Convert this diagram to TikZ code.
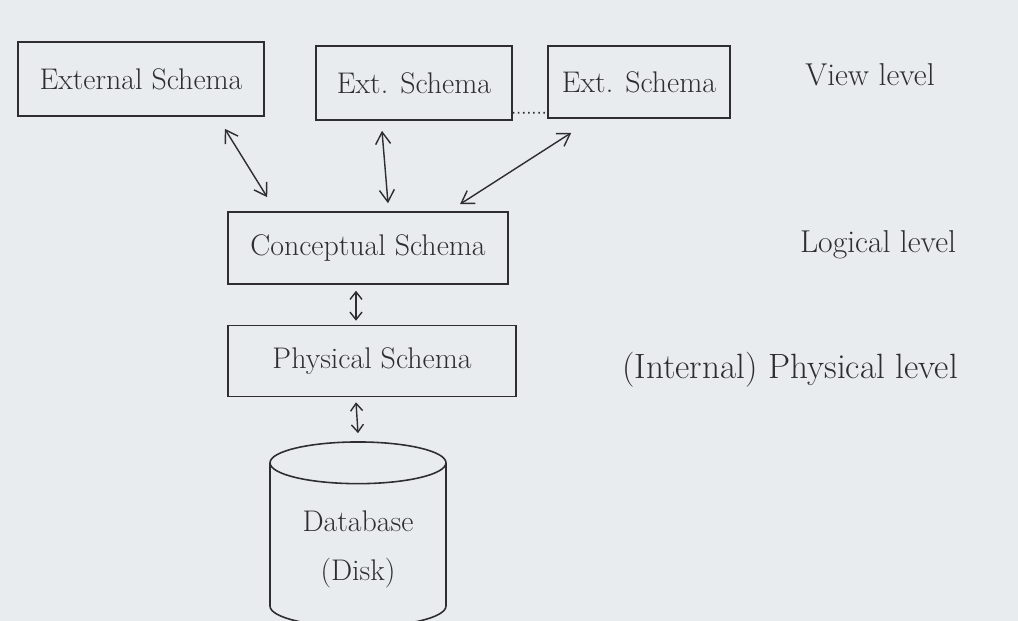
\documentclass[tikz,border=0pt]{standalone}
\usepackage{tikz}
\usetikzlibrary{shapes.geometric, arrows.meta, positioning}
\usepackage{xcolor}
\definecolor{board}{RGB}{233,236,239}
\definecolor{marker}{RGB}{45,45,50}

\begin{document}
\begin{tikzpicture}[
    x=0.02cm, y=-0.02cm,
    schema/.style={rectangle, draw=marker, line width=0.9pt, text=marker,
                   align=center, font=\fontsize{17}{20}\selectfont},
    disk/.style={cylinder, draw=marker, line width=0.9pt, shape border rotate=90,
                 aspect=0.34, minimum width=3.52cm, minimum height=3.7cm, text=marker,
                 align=center, font=\fontsize{17}{28}\selectfont},
    lvl/.style={font=\fontsize{18}{20}\selectfont, text=marker},
    link/.style={{Straight Barb[length=2.4mm,width=3mm]}-{Straight Barb[length=2.4mm,width=3mm]},
                 draw=marker, line width=0.8pt},
    shortlink/.style={{Straight Barb[length=1.5mm,width=2.4mm]}-{Straight Barb[length=1.5mm,width=2.4mm]},
                 draw=marker, line width=0.8pt}
]
\fill[board] (0,0) rectangle (1018,621);
\useasboundingbox (0,0) rectangle (1018,621);
\clip (0,0) rectangle (1018,621);

% view level
\node[schema, minimum width=4.92cm, minimum height=1.48cm] (ext1) at (141,79) {External Schema};
\node[schema, minimum width=3.92cm, minimum height=1.48cm] (ext2) at (414,83) {Ext. Schema};
\node[schema, minimum width=3.64cm, minimum height=1.44cm] (ext3) at (639,82) {Ext. Schema};
\draw[marker, dotted, line width=0.9pt] ([shift={(0,-8)}]ext2.south east) -- ([shift={(0,-6)}]ext3.south west);

% logical and physical level
\node[schema, minimum width=5.6cm, minimum height=1.44cm] (concept) at (368,248) {Conceptual Schema};
\node[schema, minimum width=5.76cm, minimum height=1.42cm] (phys) at (372,361) {Physical Schema};
\node[disk] (db) at (358,549) {Database\\(Disk)};

\node[lvl] (viewlvl) at (870,75) {View level};
\node[lvl] (logiclvl) at (878,245) {Logical level};
\node[lvl, font=\fontsize{20}{24}\selectfont] (physlvl) at (790,370) {(Internal) Physical level};

\draw[link] ([shift={(-40,12)}]ext1.south east) -- ([shift={(40,-14)}]concept.north west);
\draw[link] ([shift={(-32,10)}]ext2.south) -- ([shift={(20,-8)}]concept.north);
\draw[link] ([shift={(24,14)}]ext3.south west) -- ([shift={(92,-7)}]concept.north);
\draw[shortlink] ([shift={(-12,6)}]concept.south) -- ([shift={(-16,-4)}]phys.north);
\draw[shortlink] ([shift={(-16,5)}]phys.south) -- ([shift={(0,-8)}]db.north);

\end{tikzpicture}
\end{document}
